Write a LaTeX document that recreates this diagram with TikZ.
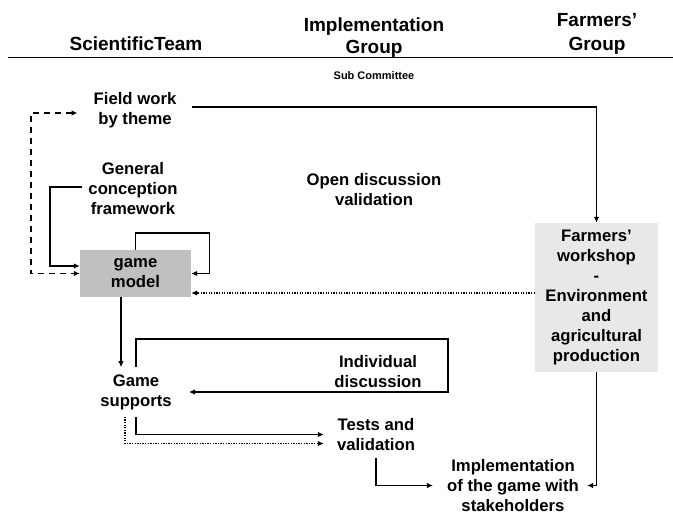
\documentclass[tikz,border=0pt]{standalone}
\usepackage{fontspec}
\setmainfont{Liberation Sans}
\usetikzlibrary{arrows.meta}
\definecolor{boxgray}{HTML}{C0C0C0}
\definecolor{lightbox}{HTML}{E8E8E8}
\begin{document}
\begin{tikzpicture}[x=1pt,y=-1pt,
  txt/.style={font=\fontsize{16.7}{20}\selectfont\bfseries, align=center, inner xsep=15pt, inner ysep=6pt},
  head/.style={font=\fontsize{19}{22}\selectfont\bfseries, align=center, inner sep=0pt},
  conn/.style={line width=1.9pt, -{Latex[length=6pt,width=5.5pt]}},
  dashconn/.style={line width=1.7pt, dash pattern=on 6pt off 5pt, {Latex[length=6pt,width=5.5pt]}-{Latex[length=6pt,width=5.5pt]}},
  dotconn/.style={line width=1.5pt, dash pattern=on 1.3pt off 1.3pt, -{Latex[length=6pt,width=5.5pt]}},
]
\useasboundingbox (0,0) rectangle (673,514);
\fill[white] (0,0) rectangle (673,514);
% headers
\node[head] (hST) at (136,44) {ScientificTeam};
\node[head] (hIG) at (374,38) {Implementation\\Group};
\node[head, font=\fontsize{19}{24}\selectfont\bfseries] (hFG) at (597,33.5) {Farmers'\\Group};
\draw[line width=1pt] (8,57.5) -- (673,57.5);
\node[font=\fontsize{11}{13}\selectfont\bfseries, inner sep=0pt] (sub) at (374,76) {Sub Committee};
% nodes
\node[txt, inner xsep=16pt] (fw) at (135,110) {Field work\\by theme};
\node[txt] (gc) at (133,189) {General\\conception\\framework};
\node[fill=boxgray, minimum width=111pt, minimum height=47pt, inner sep=0pt, font=\fontsize{16.7}{20}\selectfont\bfseries, align=center] (gm) at (135.5,273.5) {game\\model};
\node[txt] (od) at (374,190) {Open discussion\\validation};
\node[fill=lightbox, minimum width=123pt, minimum height=149pt, inner sep=0pt, font=\fontsize{16.7}{20}\selectfont\bfseries, align=center] (fws) at (596.5,297.5) {Farmers'\\workshop\\-\\Environment\\and\\agricultural\\production};
\node[txt, inner xsep=17pt, inner ysep=7pt] (gs) at (136,392) {Game\\supports};
\node[txt] (id) at (378,372) {Individual\\discussion};
\node[txt, inner xsep=13pt, inner ysep=7pt] (tv) at (376,434.5) {Tests and\\validation};
\node[txt, inner xsep=14pt] (impl) at (513,485.5) {Implementation\\of the game with\\stakeholders};
% connectors
\draw[dashconn] ([yshift=-3pt]fw.west) -| (31,273.5) -- (gm.west);
\draw[conn] ([yshift=3pt]fw.west -| fw.east) -| (fws.north);
\draw[conn] (82,187) -| (50,266) -- ([yshift=7.5pt]gm.west);
\draw[conn] (gm.north) |- ++(74,-17) |- (gm.east);
\draw[dotconn] ([yshift=-19.5pt]gm.east -| fws.west) -- ([yshift=-19.5pt]gm.east);
\draw[conn] ([xshift=-14.5pt]gm.south) -- ([xshift=-14.5pt]gm.south |- gs.north);
\draw[conn] (gs.north) |- (448,339) |- (gs.east);
\draw[conn] (gs.south) |- (tv.west);
\draw[dotconn] ([xshift=-11pt]gs.south) |- ([yshift=-9pt]tv.west);
\draw[conn] (tv.south) |- (impl.west);
\draw[conn] (fws.south) |- ([xshift=-6pt]impl.east);
\end{tikzpicture}
\end{document}
